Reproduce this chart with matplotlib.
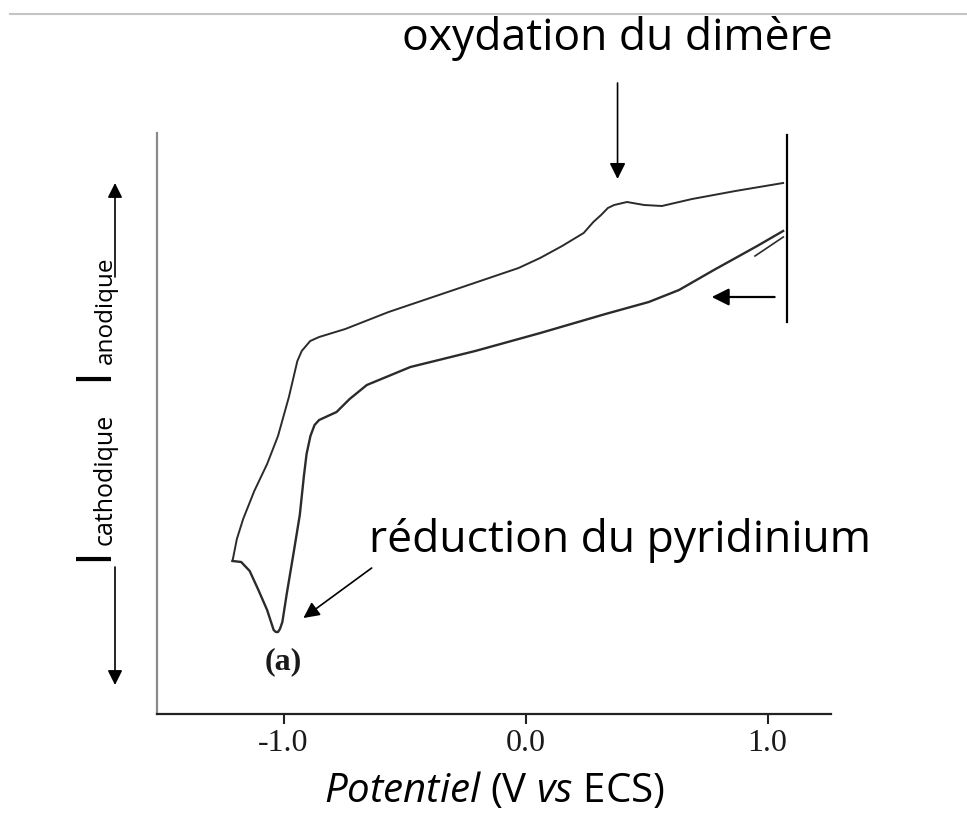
import matplotlib
matplotlib.use("Agg")
import matplotlib.pyplot as plt
from matplotlib.lines import Line2D
from matplotlib.patches import FancyArrowPatch

plt.rcParams["font.family"] = ["Open Sans", "DejaVu Sans"]
plt.rcParams["mathtext.fontset"] = "custom"
plt.rcParams["mathtext.rm"] = "Open Sans"
plt.rcParams["mathtext.it"] = "Open Sans:italic"

# forward (anodic) sweep, V vs ECS / current in arbitrary units
fwd_E = [-1.211, -1.193, -1.167, -1.121, -1.068, -1.023, -0.978, -0.943, -0.925,
         -0.890, -0.853, -0.745, -0.566, -0.297, -0.029, 0.060, 0.151, 0.240,
         0.280, 0.312, 0.340, 0.366, 0.419, 0.490, 0.563, 0.688, 0.867, 1.064]
fwd_I = [15.3, 17.5, 19.5, 22.3, 25.0, 27.8, 31.7, 35.3, 36.3,
         37.3, 37.7, 38.5, 40.2, 42.4, 44.6, 45.6, 46.8, 48.1,
         49.2, 49.9, 50.6, 50.9, 51.2, 50.9, 50.8, 51.5, 52.3, 53.1]

# reverse (cathodic) sweep
rev_E = [1.064, 0.957, 0.778, 0.634, 0.509, 0.330, 0.061, -0.208, -0.476,
         -0.656, -0.727, -0.781, -0.853, -0.872, -0.889, -0.905, -0.916, -0.933,
         -0.960, -0.987, -1.005, -1.015, -1.023, -1.032, -1.041, -1.068, -1.104,
         -1.140, -1.175, -1.211]
rev_I = [48.3, 46.8, 44.4, 42.4, 41.2, 40.0, 38.1, 36.3, 34.7,
         32.9, 31.5, 30.2, 29.4, 28.9, 27.8, 26.0, 23.8, 19.9,
         15.9, 12.0, 9.2, 8.5, 8.2, 8.2, 8.4, 10.4, 12.4,
         14.3, 15.2, 15.3]

# second scan, only visible where it separates from the first one
scan2_E = [1.065, 0.948]
scan2_I = [47.7, 45.8]

xticks = [-1.0, 0.0, 1.0]
xtick_labels = ["-1.0", "0.0", "1.0"]

W, H = 967, 825
fig = plt.figure(figsize=(W / 100, H / 100), dpi=100)
ax = fig.add_axes([157 / W, 1 - 714 / H, (831 - 157) / W, (714 - 133) / H])

curve = "#2b2b2b"
ax.plot(fwd_E, fwd_I, color=curve, lw=1.4, solid_joinstyle="round")
ax.plot(rev_E, rev_I, color=curve, lw=1.7, solid_joinstyle="round")
ax.plot(scan2_E, scan2_I, color=curve, lw=1.2)

ax.set_xlim(-1.523, 1.262)
ax.set_ylim(0, 58.1)

for side in ["top", "right"]:
    ax.spines[side].set_visible(False)
ax.spines["left"].set_color("#8a8a8a")
ax.spines["left"].set_linewidth(1.6)
ax.spines["bottom"].set_color("#222222")
ax.spines["bottom"].set_linewidth(1.6)

ax.set_yticks([])
ax.set_xticks(xticks)
ax.set_xticklabels(xtick_labels, family="Liberation Serif", fontsize=23,
                   color="#1a1a1a")
ax.tick_params(axis="x", length=7, width=1.5, pad=4, color="#222222")

ax.set_xlabel(r"$\mathit{Potentiel}$ (V $\mathit{vs}$ ECS)", fontsize=29,
              labelpad=9)

# switching potential and scan direction
ax.plot([1.081, 1.081], [39.2, 57.9], color="black", lw=1.6)
ax.annotate("", xy=(0.769, 41.7), xytext=(1.029, 41.7),
            arrowprops=dict(arrowstyle="-|>", color="black", lw=1.6,
                            mutation_scale=26, shrinkA=0, shrinkB=0))

ax.text(-1.0, 5.2, "(a)", family="Liberation Serif", fontweight="bold",
        fontsize=23, ha="center", va="center", color="#1a1a1a")

# annotations
ax.annotate("", xy=(0.380, 53.5), xytext=(0.380, 63.1),
            annotation_clip=False,
            arrowprops=dict(arrowstyle="-|>", color="black", lw=1.2,
                            mutation_scale=24, shrinkA=0, shrinkB=0))
fig.text(617 / W, 1 - 50 / H, "oxydation du dimère", fontsize=32,
         ha="center", va="baseline")

ax.annotate("", xy=(-0.918, 9.6), xytext=(-0.636, 14.6),
            arrowprops=dict(arrowstyle="-|>", color="black", lw=1.2,
                            mutation_scale=24, shrinkA=0, shrinkB=0))
fig.text(620 / W, 1 - 552 / H, "réduction du pyridinium", fontsize=32,
         ha="center", va="baseline")

# y label built from pieces: I_cathodique (down) and I_anodique (up)
def vtext(x, y, s, size):
    fig.text(x / W, 1 - y / H, s, fontsize=size, rotation=90,
             rotation_mode="anchor", ha="left", va="baseline")

vtext(107, 561, "I", 36)
vtext(112, 545, "cathodique", 18)
vtext(107, 381, "I", 36)
vtext(112, 364, "anodique", 17.5)

for y0, y1 in [(567, 685), (277, 183)]:
    fig.add_artist(FancyArrowPatch(
        (115 / W, 1 - y0 / H), (115 / W, 1 - y1 / H),
        transform=fig.transFigure, arrowstyle="-|>", color="black",
        lw=1.2, mutation_scale=22, shrinkA=0, shrinkB=0))

fig.add_artist(Line2D([10 / W, 1.0], [1 - 14 / H, 1 - 14 / H],
                      transform=fig.transFigure, color="#c4c4c4", lw=1.5))

fig.savefig("out.png", dpi=100, facecolor="white")
